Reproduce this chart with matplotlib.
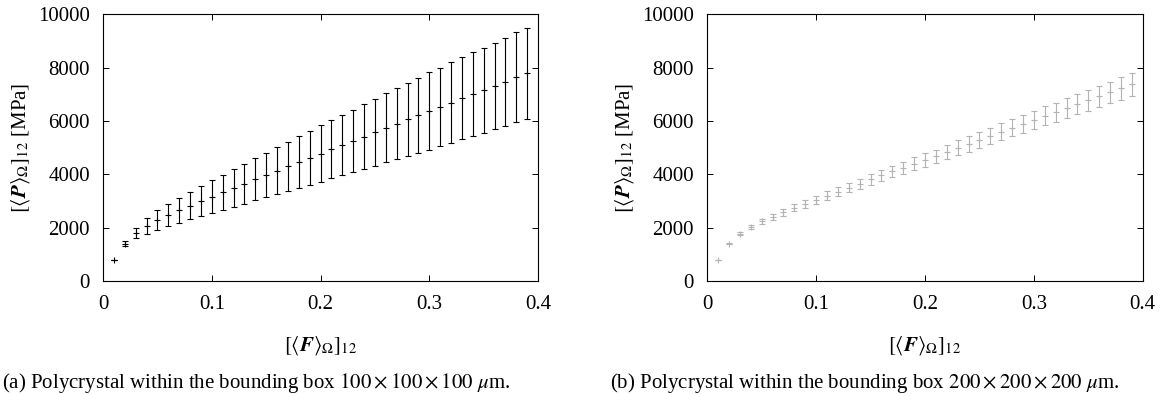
"""
Average stress vs. average deformation gradient (12 components) for two
polycrystal bounding boxes, with error bars.
"""

import numpy as np
import matplotlib
matplotlib.use('Agg')
import matplotlib.pyplot as plt

plt.rcParams['font.family'] = 'serif'
plt.rcParams['font.serif'] = ['Liberation Serif', 'DejaVu Serif']
plt.rcParams['mathtext.fontset'] = 'stix'

# --- Data ---
F12 = [0.01, 0.02, 0.03, 0.04, 0.05, 0.06, 0.07, 0.08, 0.09, 0.10,
       0.11, 0.12, 0.13, 0.14, 0.15, 0.16, 0.17, 0.18, 0.19, 0.20,
       0.21, 0.22, 0.23, 0.24, 0.25, 0.26, 0.27, 0.28, 0.29, 0.30,
       0.31, 0.32, 0.33, 0.34, 0.35, 0.36, 0.37, 0.38, 0.39]

# (a) 100 x 100 x 100 um
P12_a = [780, 1400, 1800, 2075, 2290, 2475, 2660, 2830, 3000, 3160,
         3325, 3490, 3650, 3810, 3965, 4140, 4300, 4460, 4615, 4780,
         4940, 5090, 5250, 5410, 5575, 5740, 5890, 6060, 6210, 6375,
         6525, 6690, 6850, 7000, 7160, 7320, 7475, 7640, 7790]
err_a = [0, 100, 195, 305, 370, 425, 470, 520, 570, 610,
         660, 700, 745, 785, 830, 885, 925, 970, 1005, 1055,
         1095, 1130, 1175, 1210, 1255, 1295, 1330, 1365, 1400, 1445,
         1470, 1505, 1540, 1570, 1595, 1620, 1650, 1680, 1700]

# (b) 200 x 200 x 200 um
P12_b = [785, 1400, 1775, 2025, 2240, 2410, 2575, 2740, 2890, 3040,
         3200, 3350, 3500, 3650, 3810, 3960, 4110, 4255, 4400, 4540,
         4675, 4840, 4990, 5140, 5300, 5440, 5590, 5740, 5890, 6040,
         6190, 6325, 6475, 6625, 6775, 6925, 7075, 7225, 7375]
err_b = [0, 30, 55, 80, 95, 110, 125, 130, 145, 155,
         165, 175, 180, 190, 195, 200, 205, 225, 245, 255,
         255, 270, 280, 290, 300, 300, 320, 320, 330, 345,
         355, 355, 375, 380, 385, 395, 405, 420, 420]

captions = [r'(a) Polycrystal within the bounding box $100 \times 100 \times 100$ $\mu$m.',
            r'(b) Polycrystal within the bounding box $200 \times 200 \times 200$ $\mu$m.']

W, H = 1168, 394
fig = plt.figure(figsize=(W / 100, H / 100), dpi=100)

ax_a = fig.add_axes([103 / W, 1 - 281 / H, 435 / W, 266.7 / H])
ax_b = fig.add_axes([707.3 / W, 1 - 281 / H, 435.4 / W, 266.7 / H])

for ax, y, e, col in [(ax_a, P12_a, err_a, 'black'),
                      (ax_b, P12_b, err_b, '#b3b3b3')]:
    ax.errorbar(F12, y, yerr=e, fmt='+', color=col, ecolor=col,
                markersize=4.5, markeredgewidth=0.8, elinewidth=0.8,
                capsize=2.0, capthick=0.8)
    ax.set_xlim(0, 0.4)
    ax.set_ylim(0, 10000)
    ax.set_xticks([0, 0.1, 0.2, 0.3, 0.4])
    ax.set_xticklabels(['0', '0.1', '0.2', '0.3', '0.4'])
    ax.set_yticks([0, 2000, 4000, 6000, 8000, 10000])
    ax.tick_params(direction='in', top=True, right=True, length=4.5,
                   width=0.7, labelsize=15)
    ax.tick_params(axis='x', pad=10)
    ax.tick_params(axis='y', pad=9.5)
    for s in ax.spines.values():
        s.set_linewidth(0.8)
    ax.set_xlabel(r'$[\langle \mathbfit{F} \rangle_{\Omega}]_{12}$', fontsize=15)
    ax.set_ylabel(r'$[\langle \mathbfit{P} \rangle_{\Omega}]_{12}$ [MPa]', fontsize=15)
    ax.xaxis.set_label_coords(0.5, -0.2)
    ax.yaxis.set_label_coords(-0.163, 0.5)

fig.text(2 / W, 1 - 383 / H, captions[0], fontsize=15, ha='left', va='center')
fig.text(610 / W, 1 - 383 / H, captions[1], fontsize=15, ha='left', va='center')

fig.savefig('out.png', dpi=100)
